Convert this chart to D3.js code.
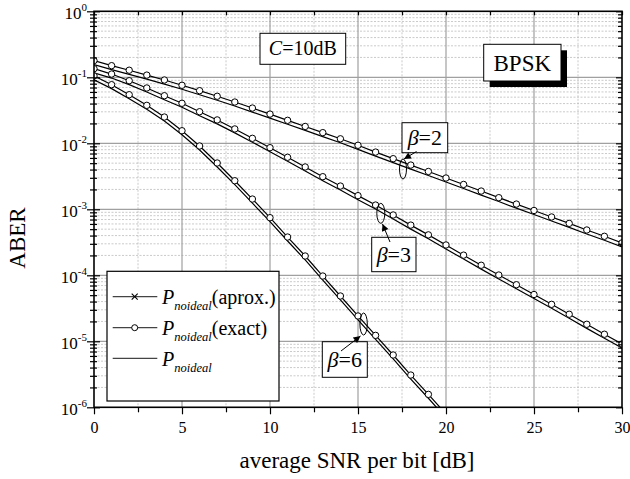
<!DOCTYPE html>
<html><head><meta charset="utf-8">
<script src="https://cdn.jsdelivr.net/npm/d3@7"></script>
<style>
body{margin:0;background:#fff}
svg{display:block}
text{font-family:"Liberation Serif","Times New Roman",serif;fill:#000}
</style>
</head><body>
<svg id="c" width="630" height="479"></svg>
<script>
// ---------------- data ----------------
const snrDb = [0,1,2,3,4,5,6,7,8,9,10,11,12,13,14,15,16,17,18,19,20,21,22,23,24,25,26,27,28,29,30];

const beta2Exact = [0.179,0.150,0.128,0.108,0.091,0.0757,0.0627,0.0516,0.0422,0.0342,0.0277,0.0223,0.0180,0.0145,0.0117,0.00933,0.00736,0.00585,0.00468,0.00374,0.00298,0.00238,0.00189,0.00150,0.00120,0.000960,0.000765,0.000612,0.000486,0.000390,0.000310];
const beta2Plain = [0.156,0.131,0.111,0.094,0.079,0.066,0.0545,0.0449,0.0367,0.0297,0.0241,0.0194,0.0157,0.0126,0.0102,0.0081,0.0064,0.00509,0.00407,0.00325,0.00259,0.00207,0.00164,0.00131,0.00104,0.000835,0.000666,0.000532,0.000423,0.000339,0.000270];

const beta3Exact = [0.135,0.112,0.0888,0.0689,0.0526,0.0404,0.0301,0.0226,0.0165,0.0119,0.00858,0.00614,0.00438,0.00312,0.00225,0.00161,0.00116,0.00082,0.000576,0.000410,0.000288,0.000202,0.000142,0.000101,7.2e-5,5.12e-5,3.63e-5,2.57e-5,1.81e-5,1.28e-5,9.1e-6];
const beta3Plain = [0.117,0.0974,0.0773,0.0599,0.0458,0.0351,0.0262,0.0197,0.0144,0.0104,0.00746,0.00534,0.00381,0.00271,0.00196,0.00140,0.00101,0.000713,0.000501,0.000357,0.000251,0.000176,0.000124,8.8e-5,6.26e-5,4.45e-5,3.16e-5,2.24e-5,1.57e-5,1.11e-5,7.9e-6];

const beta6Exact = [0.105,0.0773,0.0545,0.0376,0.0250,0.0155,0.00910,0.00503,0.00271,0.00143,0.000746,0.000380,0.000196,9.75e-5,4.86e-5,2.42e-5,1.23e-5,6.2e-6,3.08e-6,1.57e-6,7.9e-7,null,null,null,null,null,null,null,null,null,null];
const beta6Plain = [0.0914,0.0673,0.0474,0.0327,0.0218,0.0135,0.00792,0.00438,0.00236,0.00124,0.000649,0.000331,0.000171,8.48e-5,4.23e-5,2.11e-5,1.07e-5,5.4e-6,2.68e-6,1.37e-6,6.9e-7,null,null,null,null,null,null,null,null,null,null];

const xTickValues = [0,5,10,15,20,25,30];
const xMinorValues = [2.5,7.5,12.5,17.5,22.5,27.5];
const yDecadeExps = [0,-1,-2,-3,-4,-5,-6];
const legendSuffix = ["(aprox.)","(exact)",""];
const betaLabels = ["2","3","6"];

// ---------------- setup ----------------
const svg = d3.select("#c");
const L = 94, R = 622, T = 11.3, B = 407.3;
const x = d3.scaleLinear().domain([0,30]).range([L,R]);
const y = d3.scaleLog().domain([1e-6,1]).range([B,T]);

svg.append("defs").append("clipPath").attr("id","clip")
  .append("rect").attr("x",L).attr("y",T).attr("width",R-L).attr("height",B-T);
const mk = svg.select("defs").append("marker").attr("id","arr")
  .attr("viewBox","0 0 10 10").attr("refX",10).attr("refY",5)
  .attr("markerWidth",8).attr("markerHeight",7).attr("orient","auto")
  .attr("markerUnits","userSpaceOnUse");
mk.append("path").attr("d","M0,0 L10,5 L0,10 z").attr("fill","#000");

// ---------------- grid ----------------
const allY = y.ticks();
const decVals = yDecadeExps.map(e => Math.pow(10,e));
const minorY = allY.filter(v => !decVals.some(d => Math.abs(v/d-1) < 1e-6));
const grid = svg.append("g");
grid.selectAll(".hm").data(minorY).enter().append("line")
  .attr("x1",L).attr("x2",R).attr("y1",d=>y(d)).attr("y2",d=>y(d))
  .attr("stroke","#bdbdbd").attr("stroke-width",0.8).attr("stroke-dasharray","2,1.5");
grid.selectAll(".vm").data(xMinorValues).enter().append("line")
  .attr("y1",T).attr("y2",B).attr("x1",d=>x(d)).attr("x2",d=>x(d))
  .attr("stroke","#bdbdbd").attr("stroke-width",0.8).attr("stroke-dasharray","2,1.5");
grid.selectAll(".hM").data(decVals.slice(1,6)).enter().append("line")
  .attr("x1",L).attr("x2",R).attr("y1",d=>y(d)).attr("y2",d=>y(d))
  .attr("stroke","#a0a0a0").attr("stroke-width",1.2);
grid.selectAll(".vM").data(xTickValues.slice(1,6)).enter().append("line")
  .attr("y1",T).attr("y2",B).attr("x1",d=>x(d)).attr("x2",d=>x(d))
  .attr("stroke","#a0a0a0").attr("stroke-width",1.2);

// ---------------- series ----------------
const plot = svg.append("g").attr("clip-path","url(#clip)");
const line = d3.line().defined(d => d[1] != null).x(d => x(d[0])).y(d => y(d[1]));
const seriesExact = [beta2Exact, beta3Exact, beta6Exact];
const seriesPlain = [beta2Plain, beta3Plain, beta6Plain];
seriesPlain.forEach(s => {
  plot.append("path").datum(snrDb.map((v,i)=>[v,s[i]]))
    .attr("d",line).attr("fill","none").attr("stroke","#000").attr("stroke-width",1.2);
});
seriesExact.forEach(s => {
  const pts = snrDb.map((v,i)=>[v,s[i]]);
  plot.append("path").datum(pts)
    .attr("d",line).attr("fill","none").attr("stroke","#000").attr("stroke-width",1.2);
  plot.selectAll(null).data(pts.filter(d => d[1] != null && d[1] >= 1e-6)).enter()
    .append("circle").attr("cx",d=>x(d[0])).attr("cy",d=>y(d[1])).attr("r",3.2)
    .attr("fill","#fff").attr("stroke","#000").attr("stroke-width",1);
});

// ---------------- axes ----------------
const ax = svg.append("g");
ax.append("g").attr("transform",`translate(0,${B})`)
  .call(d3.axisBottom(x).tickValues(xMinorValues).tickSize(5).tickFormat(""))
  .call(g=>g.select(".domain").remove());
const bx = ax.append("g").attr("transform",`translate(0,${B})`)
  .call(d3.axisBottom(x).tickValues(xTickValues).tickSize(7).tickPadding(7).tickFormat(d3.format("d")));
bx.select(".domain").remove();
bx.selectAll("text").attr("font-size",16).attr("font-family","Liberation Serif");
ax.append("g").attr("transform",`translate(0,${T})`)
  .call(d3.axisBottom(x).tickValues(xTickValues.concat(xMinorValues)).tickSize(4).tickFormat(""))
  .call(g=>g.select(".domain").remove());
ax.append("g").attr("transform",`translate(${L},0)`)
  .call(d3.axisLeft(y).tickValues(decVals).tickSize(7).tickFormat(""))
  .call(g=>g.select(".domain").remove());
ax.append("g").attr("transform",`translate(${L},0)`)
  .call(d3.axisRight(y).tickValues(decVals).tickSize(6).tickFormat(""))
  .call(g=>g.select(".domain").remove());
ax.append("g").attr("transform",`translate(${L},0)`)
  .call(d3.axisLeft(y).tickValues(minorY).tickSize(4).tickFormat(""))
  .call(g=>g.select(".domain").remove());
ax.append("g").attr("transform",`translate(${L},0)`)
  .call(d3.axisRight(y).tickValues(minorY).tickSize(3).tickFormat(""))
  .call(g=>g.select(".domain").remove());
ax.append("g").attr("transform",`translate(${R},0)`)
  .call(d3.axisLeft(y).tickValues(minorY).tickSize(4).tickFormat(""))
  .call(g=>g.select(".domain").remove());
ax.append("g").attr("transform",`translate(${R},0)`)
  .call(d3.axisLeft(y).tickValues(decVals).tickSize(6).tickFormat(""))
  .call(g=>g.select(".domain").remove());
ax.selectAll(".tick line").attr("stroke","#000").attr("stroke-width",1.2);
svg.append("rect").attr("x",L).attr("y",T).attr("width",R-L).attr("height",B-T)
  .attr("fill","none").attr("stroke","#000").attr("stroke-width",1.6);

// y tick labels
yDecadeExps.forEach(e => {
  const t = svg.append("text").attr("x",87).attr("y",y(Math.pow(10,e))+7.5)
    .attr("text-anchor","end").attr("font-size",17);
  t.append("tspan").text("10");
  t.append("tspan").attr("dy",-8).attr("font-size",11).text(e === 0 ? "0" : String(e));
});

// axis titles
svg.append("text").attr("x",357).attr("y",468).attr("text-anchor","middle")
  .attr("font-size",23).text("average SNR per bit [dB]");
svg.append("text").attr("transform","translate(25,238) rotate(-90)")
  .attr("text-anchor","middle").attr("font-size",23).text("ABER");

// ---------------- annotations ----------------
svg.append("rect").attr("x",260).attr("y",33.3).attr("width",85.7).attr("height",31)
  .attr("fill","#fff").attr("stroke","#000").attr("stroke-width",1);
const ct = svg.append("text").attr("x",302.8).attr("y",54.5).attr("text-anchor","middle").attr("font-size",20);
ct.append("tspan").attr("font-style","italic").text("C");
ct.append("tspan").text("=10dB");

svg.append("rect").attr("x",489.7).attr("y",50.3).attr("width",77.3).attr("height",36.7).attr("fill","#000");
svg.append("rect").attr("x",483.7).attr("y",44.3).attr("width",77.3).attr("height",36.7)
  .attr("fill","#fff").attr("stroke","#000").attr("stroke-width",1);
svg.append("text").attr("x",522.3).attr("y",71).attr("text-anchor","middle").attr("font-size",23).text("BPSK");

const betaBoxes = [
  {bx:402,by:122.7,bw:45.7,bh:30,ex:403,ey:169,rx:3.5,ry:10,ax1:416.5,ay1:151.5,ax2:404,ay2:159},
  {bx:371.7,by:237.3,bw:44.3,bh:34.4,ex:380.8,ey:213.3,rx:4,ry:10,ax1:390,ay1:242,ax2:382.5,ay2:224},
  {bx:322.3,by:341.7,bw:45,bh:35.6,ex:363.6,ey:324,rx:3.7,ry:11,ax1:341,ay1:351,ax2:360.5,ay2:336}
];
betaBoxes.forEach((b,i) => {
  svg.append("ellipse").attr("cx",b.ex).attr("cy",b.ey).attr("rx",b.rx).attr("ry",b.ry)
    .attr("fill","none").attr("stroke","#000").attr("stroke-width",1);
  svg.append("rect").attr("x",b.bx).attr("y",b.by).attr("width",b.bw).attr("height",b.bh)
    .attr("fill","#fff").attr("stroke","#000").attr("stroke-width",1);
  const t = svg.append("text").attr("x",b.bx+b.bw/2).attr("y",b.by+b.bh/2+7.5)
    .attr("text-anchor","middle").attr("font-size",22);
  t.append("tspan").attr("font-style","italic").text("β");
  t.append("tspan").text("=" + betaLabels[i]);
  svg.append("line").attr("x1",b.ax1).attr("y1",b.ay1).attr("x2",b.ax2).attr("y2",b.ay2)
    .attr("stroke","#000").attr("stroke-width",1).attr("marker-end","url(#arr)");
});

// ---------------- legend ----------------
const lg = svg.append("g");
lg.append("rect").attr("x",107).attr("y",271.3).attr("width",172).attr("height",129.7)
  .attr("fill","#fff").attr("stroke","#000").attr("stroke-width",1.2);
const rowY = [296.7, 327.7, 358.3];
legendSuffix.forEach((s,i) => {
  const yy = rowY[i];
  lg.append("line").attr("x1",112.7).attr("x2",157.3).attr("y1",yy).attr("y2",yy)
    .attr("stroke","#444").attr("stroke-width",1.2);
  if (i === 0) {
    lg.append("path").attr("d",`M${134.7-3},${yy-3}L${134.7+3},${yy+3}M${134.7-3},${yy+3}L${134.7+3},${yy-3}`)
      .attr("stroke","#000").attr("stroke-width",1.1);
  } else if (i === 1) {
    lg.append("circle").attr("cx",134.7).attr("cy",yy).attr("r",3)
      .attr("fill","#fff").attr("stroke","#000").attr("stroke-width",1);
  }
  const t = lg.append("text").attr("x",162).attr("y",yy+7.5).attr("font-size",20);
  t.append("tspan").attr("font-style","italic").text("P");
  t.append("tspan").attr("font-style","italic").attr("font-size",12.5).attr("dy",6).text("noideal");
  if (s) t.append("tspan").attr("dy",-6).text(s);
});
</script>
</body></html>
